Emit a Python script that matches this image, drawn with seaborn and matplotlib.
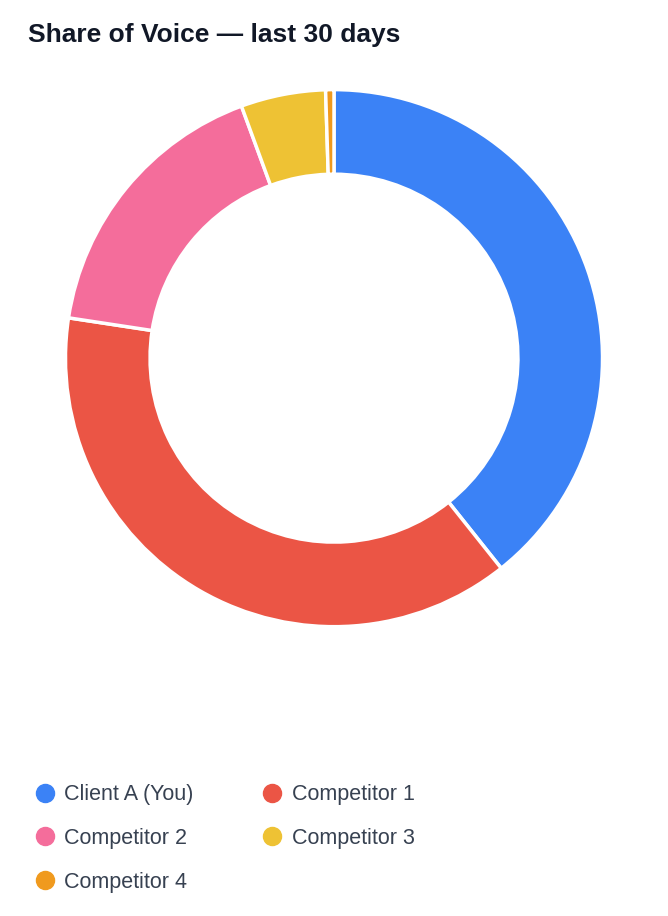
import matplotlib
matplotlib.use("Agg")
import matplotlib.pyplot as plt
import seaborn as sns
from matplotlib.lines import Line2D

sns.set_theme(style="white")
plt.rcParams['font.family'] = ['Liberation Sans', 'DejaVu Sans']

labels = ["Client A (You)", "Competitor 1", "Competitor 2", "Competitor 3", "Competitor 4"]
values = [39.3, 38.1, 17.0, 5.1, 0.5]
colors = ["#3B82F6", "#EB5545", "#F46D9B", "#EEC234", "#F09A1E"]

fig = plt.figure(figsize=(6.68, 9.16), dpi=100)
ax = fig.add_axes([0.096, 0.314, 0.808, 0.59])
ax.pie(values, colors=colors, startangle=90, counterclock=False,
       wedgeprops=dict(width=0.315, edgecolor="white", linewidth=2.5))
ax.set_xlim(-1.005, 1.005)
ax.set_ylim(-1.005, 1.005)
ax.set_aspect("equal")

fig.text(28/668, 1-35/916, "Share of Voice — last 30 days", fontsize=19,
         fontweight="bold", color="#111827", va="center", ha="left")

handles = [Line2D([], [], marker="o", linestyle="", markersize=13,
                  markerfacecolor=c, markeredgecolor=c) for c in colors]
order = [0, 2, 4, 1, 3]
leg = fig.legend([handles[i] for i in order], [labels[i] for i in order], ncol=2,
                 loc="upper left", bbox_to_anchor=(16/668, 1-765/916), frameon=False,
                 fontsize=15.5, handletextpad=0.45, columnspacing=3.2, labelspacing=1.05,
                 handlelength=0.9)
for t in leg.get_texts():
    t.set_color("#374151")

fig.savefig("out.png", dpi=100)
